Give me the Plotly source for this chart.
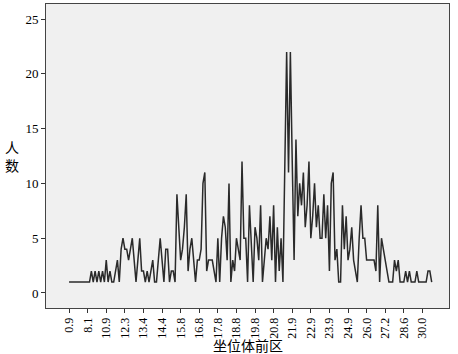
import plotly.graph_objects as go

tick_labels = ["0.9", "8.1", "10.9", "12.3", "13.4", "14.4", "15.8", "16.8", "17.8", "18.8",
               "19.8", "20.8", "21.9", "22.9", "23.9", "24.9", "26.0", "27.2", "28.6", "30.0"]

counts = [
    1, 1, 1, 1, 1, 1, 1, 1, 1, 1, 1,
    1, 2, 1, 2, 1, 2, 1, 2, 1, 3,
    1, 2, 1, 1, 2, 3, 1, 4, 5, 4,
    4, 3, 4, 5, 3, 1, 3, 5, 2, 2,
    1, 2, 1, 2, 3, 1, 1, 3, 5, 3,
    1, 4, 4, 1, 2, 2, 1, 9, 6, 3,
    4, 6, 9, 2, 4, 5, 3, 1, 3, 3,
    4, 10, 11, 2, 3, 3, 3, 2, 1, 5,
    1, 5, 7, 6, 3, 10, 1, 3, 2, 5,
    4, 3, 12, 5, 5, 1, 8, 4, 1, 6,
    5, 3, 8, 1, 3, 5, 4, 7, 3, 8,
    1, 6, 2, 5, 1, 11, 22, 11, 22, 12,
    3, 14, 7, 10, 8, 11, 6, 8, 12, 5,
    7, 10, 6, 8, 5, 5, 9, 5, 8, 2,
    10, 11, 3, 4, 1, 1, 8, 4, 7, 3,
    4, 6, 3, 2, 1, 5, 8, 5, 5, 3,
    3, 3, 3, 3, 2, 8, 1, 5, 4, 3,
    2, 1, 1, 1, 3, 2, 3, 1, 1, 1,
    2, 1, 2, 1, 1, 1, 2, 1, 1, 1,
    1, 1, 2, 2, 1,
]

x_idx = list(range(len(counts)))
tick_pos = [i * 10 for i in range(len(tick_labels))]

fig = go.Figure()
fig.add_trace(go.Scatter(
    x=x_idx, y=counts, mode="lines",
    line=dict(color="#2a2a2a", width=1.5),
    hoverinfo="skip", showlegend=False,
))

serif = "Liberation Serif, Times New Roman, serif"
cjk = "Noto Sans CJK SC, sans-serif"

fig.update_layout(
    width=458, height=354,
    margin=dict(l=46, r=9, t=4, b=46),
    paper_bgcolor="white",
    plot_bgcolor="#f0f0f0",
    xaxis=dict(
        range=[-12.4, 204.3],
        tickmode="array", tickvals=tick_pos, ticktext=tick_labels,
        tickangle=-90, ticks="outside", ticklen=4, tickcolor="#333",
        tickfont=dict(family=serif, size=12, color="black"),
        showgrid=False, zeroline=False, automargin=False,
        showline=True, linecolor="#444", linewidth=1, mirror=True,
    ),
    yaxis=dict(
        range=[-1.37, 26.37],
        tickvals=[0, 5, 10, 15, 20, 25],
        ticks="outside", ticklen=4, tickcolor="#333",
        tickfont=dict(family=serif, size=13, color="black"),
        showgrid=False, zeroline=False, automargin=False,
        showline=True, linecolor="#444", linewidth=1, mirror=True,
    ),
    annotations=[
        dict(text="坐位体前区", xref="paper", yref="paper", x=0.5, y=0,
             xanchor="center", yanchor="middle", yshift=-37,
             showarrow=False, font=dict(family=cjk, size=14, color="black")),
        dict(text="人<br>数", xref="paper", yref="paper", x=0, y=0.5,
             xanchor="center", yanchor="middle", xshift=-34,
             showarrow=False, font=dict(family=cjk, size=14, color="black")),
    ],
)

fig.write_html("out.html", config={"displayModeBar": False},
               post_script="document.body.style.margin='0';")
